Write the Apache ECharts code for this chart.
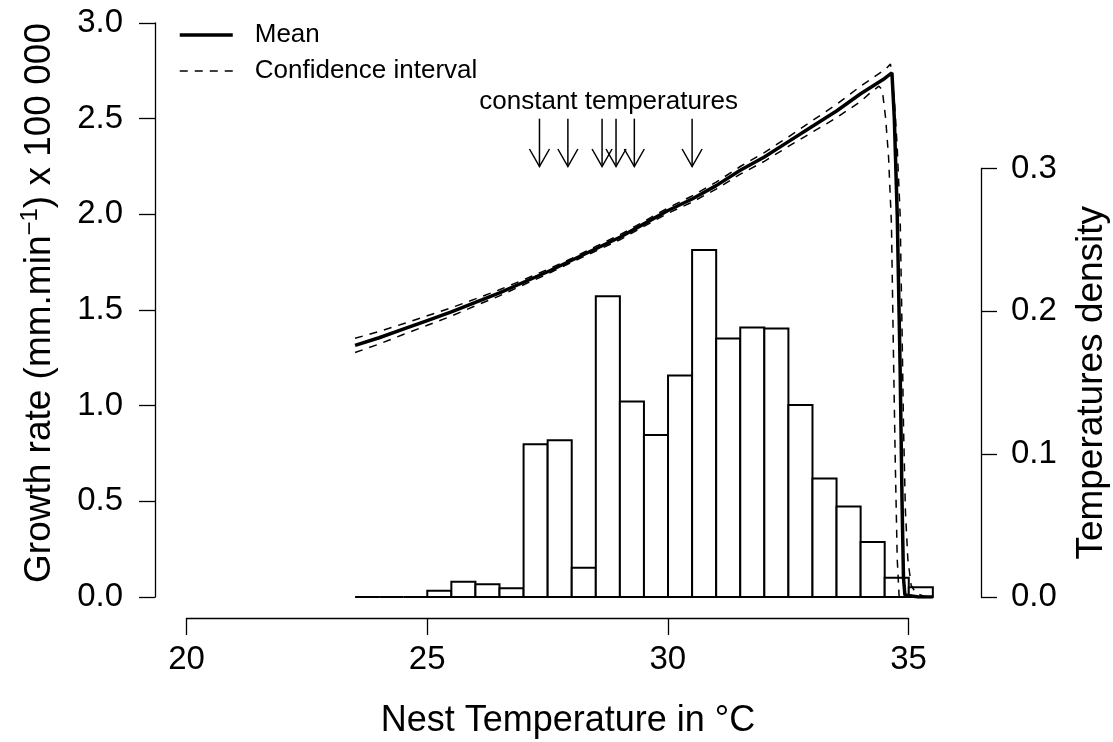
<!DOCTYPE html>
<html><head><meta charset="utf-8">
<script src="https://cdn.jsdelivr.net/npm/echarts@6/dist/echarts.min.js"></script>
<style>html,body{margin:0;padding:0;background:#fff}#c{width:1113px;height:742px}</style>
</head><body><div id="c"></div>
<script>
// ---- data ----
const binEdges = [23.5,24,24.5,25,25.5,26,26.5,27,27.5,28,28.5,29,29.5,30,30.5,31,31.5,32,32.5,33,33.5,34,34.5,35,35.5];
const densities = [0,0,0,0.0044,0.0107,0.0089,0.0061,0.107,0.1098,0.0205,0.2105,0.1369,0.1135,0.155,0.243,0.181,0.1887,0.188,0.1345,0.0829,0.0633,0.0385,0.0135,0.0068];

const meanT = [23.5,24,24.5,25,25.5,26,26.5,27,27.5,28,28.5,29,29.5,30,30.5,31,31.5,32,32.5,33,33.5,34,34.5,34.65,34.7,34.76,34.82,34.86,34.89,34.92,35.2,35.5];
const meanV = [1.315,1.355,1.40,1.445,1.49,1.54,1.59,1.645,1.70,1.76,1.82,1.88,1.95,2.02,2.08,2.15,2.23,2.30,2.38,2.46,2.54,2.63,2.71,2.74,2.5,2.0,1.2,0.5,0.1,0.01,0,0];

const upperT = [23.5,24,24.5,25,25.5,26,26.5,27,27.5,28,28.5,29,29.5,30,30.5,31,31.5,32,32.5,33,33.5,34,34.5,34.62,34.7,34.76,34.82,34.86,34.89,34.93,34.98,35.05,35.15,35.3,35.5];
const upperV = [1.352,1.388,1.428,1.47,1.512,1.558,1.606,1.658,1.712,1.77,1.832,1.893,1.963,2.034,2.096,2.168,2.25,2.323,2.405,2.49,2.575,2.67,2.755,2.785,2.6,2.35,2.0,1.4,0.9,0.45,0.2,0.06,0.02,0.005,0];

const lowerT = [23.5,24,24.5,25,25.5,26,26.5,27,27.5,28,28.5,29,29.5,30,30.5,31,31.5,32,32.5,33,33.5,34,34.2,34.38,34.45,34.52,34.58,34.64,34.68,34.72,34.76,34.8,35.5];
const lowerV = [1.278,1.322,1.372,1.42,1.468,1.522,1.574,1.632,1.688,1.75,1.808,1.867,1.937,2.006,2.064,2.132,2.21,2.277,2.355,2.43,2.505,2.59,2.635,2.67,2.65,2.5,2.3,1.95,1.3,0.7,0.2,0,0];

const constantTemps = [27.33,27.92,28.63,28.92,29.30,30.50];
const arrowTop = 2.5, arrowBottom = 2.25, labelY = 2.59;
const labelText = 'constant temperatures';

const xTicksMin = 20, xTicksMax = 35, xTickStep = 5;
const leftMax = 3, leftStep = 0.5;
const rightMax = 0.3, rightStep = 0.1;

// ---- chart ----
const FONT = '"Liberation Sans", Arial, Helvetica, sans-serif';
const X_MIN = 19.345, X_MAX = 36.5;
const histData = densities.map((d, i) => [binEdges[i], binEdges[i + 1], d]);
const pairs = (t, v) => t.map((x, i) => [x, v[i]]);
const labelX = constantTemps.reduce((a, b) => a + b, 0) / constantTemps.length;

const axisLineStyle = {color: '#000', width: 1.3};
const chart = echarts.init(document.getElementById('c'));
chart.setOption({
  animation: false,
  backgroundColor: '#fff',
  grid: [
    {left: 155, top: 23, width: 826, height: 574, outerBoundsMode: 'none', containLabel: false},
    {left: 155, top: 168.5, width: 826, height: 428.5, outerBoundsMode: 'none', containLabel: false},
    {left: 186.5, top: 23, width: 722, height: 595, outerBoundsMode: 'none', containLabel: false}
  ],
  legend: {
    left: 173, top: 17, orient: 'vertical', itemWidth: 53, itemHeight: 26, itemGap: 10,
    selectedMode: false,
    textStyle: {fontSize: 26, color: '#000', fontFamily: FONT, padding: [0, 0, 0, 17]},
    data: [
      {name: 'Mean', lineStyle: {width: 3.5, color: '#000'}, itemStyle: {opacity: 0}},
      {name: 'Confidence interval', lineStyle: {width: 1.5, color: '#000', type: [8, 7]}, itemStyle: {opacity: 0}}
    ]
  },
  xAxis: [
    {gridIndex: 0, type: 'value', min: X_MIN, max: X_MAX,
     axisLine: {show: false}, axisTick: {show: false}, axisLabel: {show: false}, splitLine: {show: false},
     name: 'Nest Temperature in °C', nameLocation: 'middle', nameGap: 106,
     nameTextStyle: {fontSize: 36, color: '#000', fontFamily: FONT}},
    {gridIndex: 1, type: 'value', min: X_MIN, max: X_MAX, show: false},
    {gridIndex: 2, type: 'value', min: xTicksMin, max: xTicksMax, interval: xTickStep,
     axisLine: {lineStyle: axisLineStyle},
     axisTick: {length: 17, lineStyle: axisLineStyle},
     axisLabel: {fontSize: 33, color: '#000', margin: 25, fontFamily: FONT},
     splitLine: {show: false}}
  ],
  yAxis: [
    {gridIndex: 0, type: 'value', min: 0, max: leftMax, interval: leftStep,
     axisLine: {show: true, lineStyle: axisLineStyle},
     axisTick: {show: true, length: 16, lineStyle: axisLineStyle},
     axisLabel: {fontSize: 33, color: '#000', margin: 32, fontFamily: FONT, formatter: v => v.toFixed(1)},
     splitLine: {show: false},
     name: '{a|Growth rate (mm.min}{s|−1}{a|) x 100 000}', nameLocation: 'middle', nameGap: 93,
     nameTextStyle: {padding: [0, 0, 0, 14], rich: {
       a: {fontSize: 37, color: '#000', fontFamily: FONT, lineHeight: 44},
       s: {fontSize: 24, color: '#000', fontFamily: FONT, lineHeight: 24, verticalAlign: 'top'}
     }}},
    {gridIndex: 1, type: 'value', min: 0, max: rightMax, interval: rightStep, position: 'right',
     axisLine: {show: true, lineStyle: axisLineStyle},
     axisTick: {show: true, length: 16, lineStyle: axisLineStyle},
     axisLabel: {fontSize: 33, color: '#000', margin: 30, fontFamily: FONT, formatter: v => v.toFixed(1)},
     splitLine: {show: false},
     name: 'Temperatures density', nameLocation: 'middle', nameGap: 92,
     nameTextStyle: {fontSize: 37, color: '#000', fontFamily: FONT}},
    {gridIndex: 2, type: 'value', min: 0, max: 1, show: false}
  ],
  series: [
    {type: 'custom', name: 'hist', xAxisIndex: 1, yAxisIndex: 1, z: 1, data: histData,
     encode: {x: [0, 1], y: 2},
     renderItem: (p, api) => {
       const a = api.coord([api.value(0), api.value(2)]);
       const b = api.coord([api.value(1), 0]);
       return {type: 'rect', shape: {x: a[0], y: a[1], width: b[0] - a[0], height: b[1] - a[1]},
               style: {fill: '#fff', stroke: '#000', lineWidth: 2}};
     }},
    {type: 'line', name: 'Mean', xAxisIndex: 0, yAxisIndex: 0, z: 4, symbol: 'none',
     data: pairs(meanT, meanV), lineStyle: {color: '#000', width: 3.5}, itemStyle: {color: '#000'}},
    {type: 'line', name: 'Confidence interval', xAxisIndex: 0, yAxisIndex: 0, z: 3, symbol: 'none',
     data: pairs(upperT, upperV), lineStyle: {color: '#000', width: 1.5, type: [8, 7]}, itemStyle: {color: '#000'}},
    {type: 'line', name: 'Confidence interval', xAxisIndex: 0, yAxisIndex: 0, z: 3, symbol: 'none',
     data: pairs(lowerT, lowerV), lineStyle: {color: '#000', width: 1.5, type: [8, 7]}, itemStyle: {color: '#000'}},
    {type: 'custom', name: 'arrows', xAxisIndex: 0, yAxisIndex: 0, z: 5,
     data: constantTemps.map(t => [t, arrowTop, arrowBottom]),
     encode: {x: 0, y: [1, 2]},
     renderItem: (p, api) => {
       const t = api.value(0);
       const top = api.coord([t, api.value(1)]);
       const bot = api.coord([t, api.value(2)]);
       const dx = 10, dy = 17.5;
       return {type: 'group', children: [
         {type: 'line', shape: {x1: top[0], y1: top[1], x2: bot[0], y2: bot[1]}, style: {stroke: '#000', lineWidth: 1.5}},
         {type: 'polyline', shape: {points: [[bot[0] - dx, bot[1] - dy], [bot[0], bot[1]], [bot[0] + dx, bot[1] - dy]]},
          style: {stroke: '#000', lineWidth: 1.5, fill: null}}
       ]};
     }},
    {type: 'custom', name: 'arrowLabel', xAxisIndex: 0, yAxisIndex: 0, z: 5,
     data: [[labelX, labelY]],
     renderItem: (p, api) => {
       const c = api.coord([api.value(0), api.value(1)]);
       return {type: 'text', style: {x: c[0], y: c[1], text: labelText, fontSize: 26, fontFamily: FONT,
               fill: '#000', align: 'center', verticalAlign: 'middle'}};
     }}
  ]
});
</script></body></html>
